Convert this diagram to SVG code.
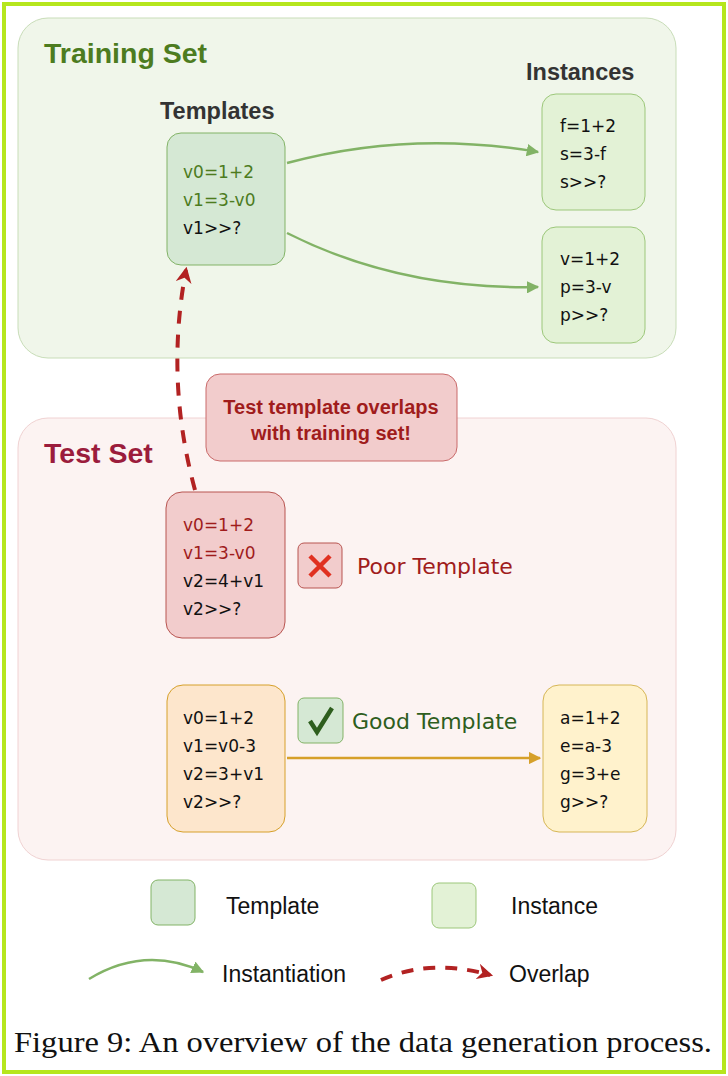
<svg xmlns="http://www.w3.org/2000/svg" width="728" height="1076" viewBox="0 0 728 1076">
<style>
.code{font-family:"DejaVu Sans",Verdana,sans-serif;font-size:17px;fill:#111}
.g{fill:#4d7c1f}.r{fill:#a01c1c}
.title{font-family:"Liberation Sans",Arial,sans-serif;font-weight:bold;font-size:28.5px}
.sub{font-family:"Liberation Sans",Arial,sans-serif;font-weight:bold;font-size:23.5px;fill:#333}
.leg{font-family:"Liberation Sans",Arial,sans-serif;font-size:23px;fill:#111}
.lab{font-family:"DejaVu Sans",Verdana,sans-serif;font-size:22px}
</style>
<defs>
<marker id="ag" viewBox="0 0 10 10" refX="9" refY="5" markerWidth="5" markerHeight="5" orient="auto"><path d="M0,0L10,5L0,10z" fill="#82b366"/></marker>
<marker id="ao" viewBox="0 0 10 10" refX="9" refY="5" markerWidth="5" markerHeight="5" orient="auto"><path d="M0,0L10,5L0,10z" fill="#d6a02a"/></marker>
<marker id="ar" viewBox="0 0 10 10" refX="8" refY="5" markerWidth="4" markerHeight="4" orient="auto"><path d="M0,0L10,5L0,10L3,5z" fill="#b22222"/></marker>
</defs>
<rect x="0" y="0" width="728" height="1076" fill="#fff"/>
<rect x="4" y="4" width="720" height="1068" fill="none" stroke="#b5e61d" stroke-width="4"/>
<g id="training-set"><rect x="18" y="18" width="658" height="340" rx="30" fill="#f0f6ea" stroke="#c8ddb8"/>
<text class="title" x="44" y="63" fill="#4d7c1f">Training Set</text>
<text class="sub" x="160" y="119">Templates</text><text class="sub" x="526" y="80">Instances</text></g>
<g id="test-set"><rect x="18" y="418" width="658" height="442" rx="30" fill="#fcf3f2" stroke="#f0d2d2"/>
<text class="title" x="44" y="463" fill="#9b1c3c">Test Set</text></g>
<g id="connectors">
<path d="M287,163 Q410,130 538,152" fill="none" stroke="#82b366" stroke-width="2.5" marker-end="url(#ag)"/>
<path d="M287,233 Q400,290 538,287" fill="none" stroke="#82b366" stroke-width="2.5" marker-end="url(#ag)"/>
<path d="M287,758 L540,758" fill="none" stroke="#d6a02a" stroke-width="2.5" marker-end="url(#ao)"/>
<path d="M195,490 Q165,380 186,270" fill="none" stroke="#b22222" stroke-width="4" stroke-dasharray="13 11" marker-end="url(#ar)"/>
</g>
<g id="template-train"><rect x="167" y="133" width="118" height="132" rx="14" fill="#d5e8d4" stroke="#82b366"/>
<text class="code g" x="183" y="178">v0=1+2</text><text class="code g" x="183" y="206">v1=3-v0</text><text class="code" x="183" y="234">v1&gt;&gt;?</text></g>
<g id="instance1"><rect x="542" y="94" width="103" height="116" rx="14" fill="#e3f2d6" stroke="#9cc77a"/>
<text class="code" x="560" y="132">f=1+2</text><text class="code" x="560" y="160">s=3-f</text><text class="code" x="560" y="188">s&gt;&gt;?</text></g>
<g id="instance2"><rect x="542" y="227" width="103" height="116" rx="14" fill="#e3f2d6" stroke="#9cc77a"/>
<text class="code" x="560" y="265">v=1+2</text><text class="code" x="560" y="293">p=3-v</text><text class="code" x="560" y="321">p&gt;&gt;?</text></g>
<g id="overlap-note"><rect x="206" y="374" width="251" height="87" rx="14" fill="#f2cccc" stroke="#c96a6a"/>
<text x="331" y="414" text-anchor="middle" font-family="Liberation Sans,Arial,sans-serif" font-weight="bold" font-size="20" fill="#a01c1c">Test template overlaps</text>
<text x="331" y="440" text-anchor="middle" font-family="Liberation Sans,Arial,sans-serif" font-weight="bold" font-size="20" fill="#a01c1c">with training set!</text></g>
<g id="poor-template"><rect x="166" y="492" width="119" height="146" rx="16" fill="#f2cccc" stroke="#b85450"/>
<text class="code r" x="183" y="531">v0=1+2</text><text class="code r" x="183" y="559">v1=3-v0</text><text class="code" x="183" y="587">v2=4+v1</text><text class="code" x="183" y="615">v2&gt;&gt;?</text></g>
<g id="poor-label"><rect x="298" y="543" width="44" height="45" rx="6" fill="#f2cccc" stroke="#b85450"/>
<path d="M310,556L330,576M330,556L310,576" stroke="#e03020" stroke-width="4.5"/>
<text class="lab r" x="357" y="574">Poor Template</text></g>
<g id="good-template"><rect x="167" y="685" width="118" height="147" rx="16" fill="#fde6cc" stroke="#d6a02a"/>
<text class="code" x="183" y="724">v0=1+2</text><text class="code" x="183" y="752">v1=v0-3</text><text class="code" x="183" y="780">v2=3+v1</text><text class="code" x="183" y="808">v2&gt;&gt;?</text></g>
<g id="good-label"><rect x="298" y="698" width="45" height="45" rx="6" fill="#d5e8d4" stroke="#82b366"/>
<path d="M310,721L317,732L332,708" fill="none" stroke="#2e5e1e" stroke-width="4.5"/>
<text class="lab" x="352" y="729" fill="#2e5e1e">Good Template</text></g>
<g id="instance3"><rect x="543" y="685" width="104" height="147" rx="16" fill="#fff2cc" stroke="#d6b656"/>
<text class="code" x="560" y="724">a=1+2</text><text class="code" x="560" y="752">e=a-3</text><text class="code" x="560" y="780">g=3+e</text><text class="code" x="560" y="808">g&gt;&gt;?</text></g>
<g id="legend">
<rect x="151" y="880" width="44" height="45" rx="7" fill="#d5e8d4" stroke="#82b366"/><text class="leg" x="226" y="914">Template</text>
<rect x="432" y="883" width="44" height="45" rx="7" fill="#e3f2d6" stroke="#9cc77a"/><text class="leg" x="511" y="914">Instance</text>
<path d="M89,979 Q145,945 203,972" fill="none" stroke="#82b366" stroke-width="2.5" marker-end="url(#ag)"/><text class="leg" x="222" y="982">Instantiation</text>
<path d="M381,980 Q430,958 490,975" fill="none" stroke="#b22222" stroke-width="4" stroke-dasharray="12 10" marker-end="url(#ar)"/><text class="leg" x="509" y="982">Overlap</text>
</g>
<text x="14" y="1052" textLength="698" lengthAdjust="spacingAndGlyphs" font-family="Liberation Serif,'Times New Roman',serif" font-size="30" fill="#111">Figure 9: An overview of the data generation process.</text>
</svg>
